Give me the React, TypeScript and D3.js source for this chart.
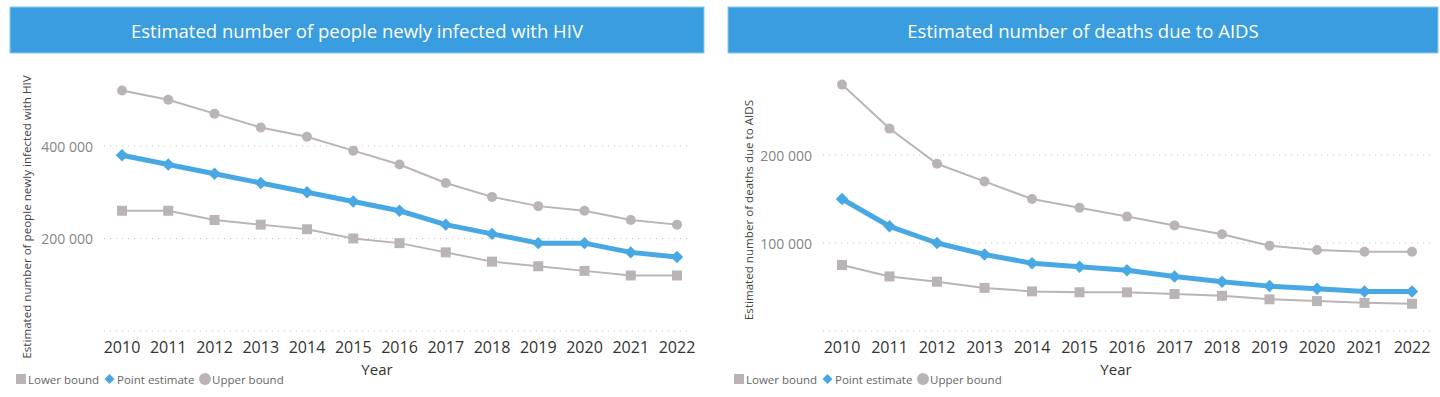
import { useMemo } from 'react';
import * as d3 from 'd3';

const years = ['2010', '2011', '2012', '2013', '2014', '2015', '2016', '2017', '2018', '2019', '2020', '2021', '2022'];

const hivLower = [260000, 260000, 240000, 230000, 220000, 200000, 190000, 170000, 150000, 140000, 130000, 120000, 120000];
const hivPoint = [380000, 360000, 340000, 320000, 300000, 280000, 260000, 230000, 210000, 190000, 190000, 170000, 160000];
const hivUpper = [520000, 500000, 470000, 440000, 420000, 390000, 360000, 320000, 290000, 270000, 260000, 240000, 230000];

const aidsLower = [75000, 62000, 56000, 49000, 45000, 44000, 44000, 42000, 40000, 36000, 34000, 32000, 31000];
const aidsPoint = [150000, 119000, 100000, 87000, 77000, 73000, 69000, 62000, 56000, 51000, 48000, 45000, 45000];
const aidsUpper = [280000, 230000, 190000, 170000, 150000, 140000, 130000, 120000, 110000, 97000, 92000, 90000, 90000];

const hivTicks = [0, 200000, 400000];
const aidsTicks = [0, 100000, 200000];

const legendItems = ['Lower bound', 'Point estimate', 'Upper bound'];

const GRAY = '#bab4b6';
const BLUE = '#48a8e4';
const BAR = '#399ddf';
const FONT = '"Open Sans", "Noto Sans", sans-serif';

const fmt = (v: number) => d3.format(',')(v).replace(/,/g, ' ');

interface PanelProps {
  title: string;
  yTitle: string;
  lower: number[];
  point: number[];
  upper: number[];
  ticks: number[];
  topPx: number;
  left: number;
  width: number;
  x0: number;
  x1: number;
  gridLeft: number;
  gridRight: number;
  yTitleX: number;
  yTitleY: number;
  yearX: number;
}

const Panel = (p: PanelProps) => {
  const yZero = 331;
  const yMaxTick = p.ticks[p.ticks.length - 1];

  const x = useMemo(() => d3.scalePoint<string>().domain(years).range([p.x0, p.x1]), [p.x0, p.x1]);
  const y = useMemo(() => d3.scaleLinear().domain([0, yMaxTick]).range([yZero, p.topPx]), [yMaxTick, p.topPx]);

  const line = d3
    .line<number>()
    .x((_, i) => x(years[i])!)
    .y(d => y(d));

  // square turned 45deg, as in the original markers
  const diamond = d3.symbol(d3.symbolSquare, 78)()!;
  const legendDiamond = d3.symbol(d3.symbolSquare, 50)()!;

  return (
    <g transform={`translate(${p.left},0)`}>
      {/* title bar */}
      <rect x={0} y={7} width={p.width} height={46} fill={BAR} stroke="#8ccaf0" strokeWidth={1} />
      <text x={p.width / 2} y={30} textAnchor="middle" dominantBaseline="central" fill="#fff" fontSize={18.5} fontWeight={500} fontFamily={FONT}>
        {p.title}
      </text>

      {/* gridlines + y labels */}
      {p.ticks.map(t => (
        <g key={t}>
          <line x1={p.gridLeft} x2={p.gridRight} y1={y(t)} y2={y(t)} stroke="#c8c8c8" strokeWidth={1} strokeDasharray="1 5" />
          {t > 0 && (
            <text x={p.gridLeft - 11} y={y(t)} textAnchor="end" dominantBaseline="central" fill="#858585" fontSize={14} fontFamily={FONT}>
              {fmt(t)}
            </text>
          )}
        </g>
      ))}

      {/* x labels */}
      {years.map(yr => (
        <text key={yr} x={x(yr)} y={347} textAnchor="middle" dominantBaseline="central" fill="#333" fontSize={16} fontFamily={FONT}>
          {yr}
        </text>
      ))}
      <text x={p.yearX} y={369} textAnchor="middle" dominantBaseline="central" fill="#333" fontSize={15} fontFamily={FONT}>
        Year
      </text>

      {/* y title */}
      <text
        transform={`translate(${p.yTitleX},${p.yTitleY}) rotate(-90)`}
        textAnchor="middle"
        dominantBaseline="central"
        fill="#444"
        fontSize={11.6}
        fontFamily={FONT}
      >
        {p.yTitle}
      </text>

      {/* upper bound */}
      <path d={line(p.upper)!} fill="none" stroke={GRAY} strokeWidth={2} />
      {p.upper.map((v, i) => (
        <circle key={i} cx={x(years[i])} cy={y(v)} r={5} fill={GRAY} />
      ))}

      {/* lower bound */}
      <path d={line(p.lower)!} fill="none" stroke={GRAY} strokeWidth={2} />
      {p.lower.map((v, i) => (
        <rect key={i} x={x(years[i])! - 5} y={y(v) - 5} width={10} height={10} fill={GRAY} />
      ))}

      {/* point estimate */}
      <path d={line(p.point)!} fill="none" stroke={BLUE} strokeWidth={5} strokeLinejoin="round" />
      {p.point.map((v, i) => (
        <path key={i} d={diamond} transform={`translate(${x(years[i])},${y(v)}) rotate(45)`} fill={BLUE} />
      ))}

      {/* legend */}
      <g transform="translate(6,379)" fontFamily={FONT} fontSize={11.5} fill="#666">
        <rect x={0} y={-5} width={10} height={10} fill={GRAY} />
        <text x={12} y={0} dominantBaseline="central">{legendItems[0]}</text>
        <path d={legendDiamond} transform="translate(93.5,0) rotate(45)" fill={BLUE} />
        <text x={101} y={0} dominantBaseline="central">{legendItems[1]}</text>
        <circle cx={189} cy={0} r={6} fill={GRAY} />
        <text x={196} y={0} dominantBaseline="central">{legendItems[2]}</text>
      </g>
    </g>
  );
};

export default function App() {
  return (
    <svg
      width={1440}
      height={397}
      style={{ position: 'absolute', left: 0, top: 0, background: '#fff' }}
    >
      <Panel
        title="Estimated number of people newly infected with HIV"
        yTitle="Estimated number of people newly infected with HIV"
        lower={hivLower}
        point={hivPoint}
        upper={hivUpper}
        ticks={hivTicks}
        topPx={146}
        left={10}
        width={694}
        x0={112}
        x1={667}
        gridLeft={94}
        gridRight={682}
        yTitleX={16}
        yTitleY={217}
        yearX={367}
      />
      <Panel
        title="Estimated number of deaths due to AIDS"
        yTitle="Estimated number of deaths due to AIDS"
        lower={aidsLower}
        point={aidsPoint}
        upper={aidsUpper}
        ticks={aidsTicks}
        topPx={155}
        left={728}
        width={710}
        x0={114}
        x1={684}
        gridLeft={95}
        gridRight={704}
        yTitleX={20}
        yTitleY={210}
        yearX={388}
      />
    </svg>
  );
}
